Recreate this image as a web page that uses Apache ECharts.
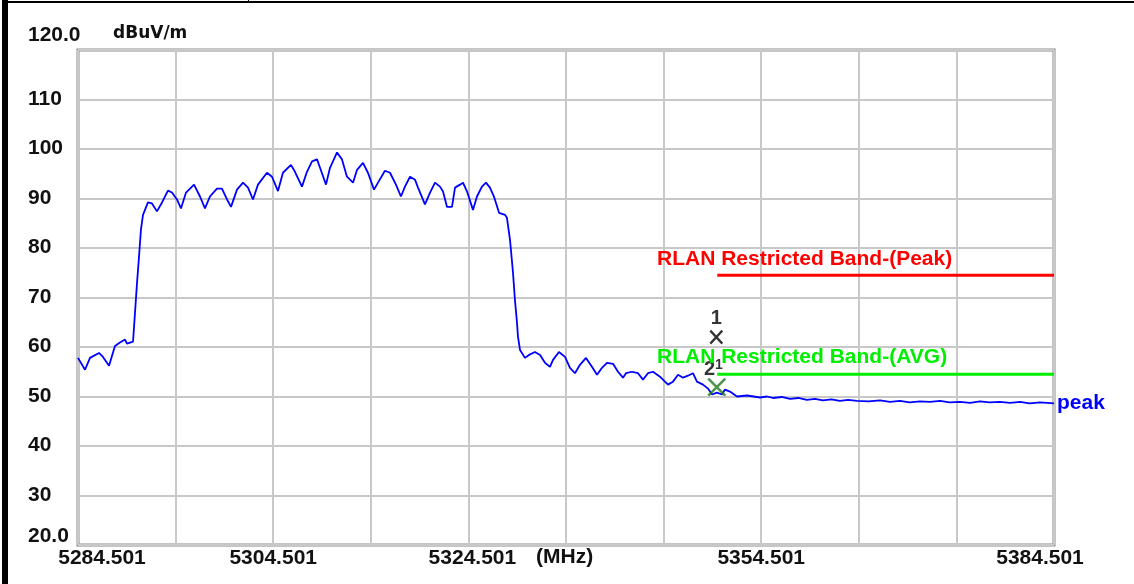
<!DOCTYPE html>
<html>
<head>
<meta charset="utf-8">
<script src="https://cdn.jsdelivr.net/npm/echarts@6/dist/echarts.min.js"></script>
<style>
html,body{margin:0;padding:0;background:#fff;}
#chart{width:1134px;height:584px;}
</style>
</head>
<body>
<div id="chart"></div>
<script>
// ---- data ----
const startFreq = 5284.501;   // MHz
const stopFreq = 5384.501;    // MHz
const freqMHz = [
5284.50,5285.22,5285.73,5286.65,5287.06,5287.68,5288.29,5288.80,5289.32,5289.52,
5290.14,5290.34,5290.55,5290.75,5290.95,5291.16,5291.67,5292.08,5292.59,5293.11,
5293.72,5294.13,5294.64,5295.05,5295.57,5296.39,5297.00,5297.51,5298.02,5298.74,
5299.25,5299.77,5300.18,5300.79,5301.41,5301.92,5302.43,5302.94,5303.86,5304.38,
5304.99,5305.50,5306.32,5306.73,5307.45,5307.96,5308.48,5308.99,5309.30,5309.91,
5310.32,5311.04,5311.55,5312.06,5312.68,5313.09,5313.70,5314.21,5314.83,5315.24,
5315.95,5316.47,5317.08,5317.59,5318.00,5318.52,5319.03,5319.34,5320.05,5320.57,
5321.08,5321.59,5321.90,5322.31,5322.82,5323.13,5323.64,5323.95,5324.36,5324.97,
5325.38,5325.89,5326.30,5326.71,5327.12,5327.64,5328.25,5328.45,5328.76,5328.86,
5329.07,5329.27,5329.48,5329.58,5329.79,5330.30,5330.71,5331.32,5331.84,5332.35,
5332.86,5333.17,5333.78,5334.40,5334.91,5335.42,5335.93,5336.55,5337.16,5337.68,
5338.19,5338.70,5339.32,5339.83,5340.34,5340.65,5341.26,5341.88,5342.39,5342.90,
5343.41,5344.13,5344.64,5344.95,5345.46,5345.98,5346.49,5347.00,5347.51,5347.92,
5348.54,5349.05,5349.46,5349.97,5350.48,5350.79,5351.30,5352.02,5353.05,5354.38,
5355.10,5355.71,5356.60,5357.45,5358.30,5359.19,5360.00,5360.83,5361.70,5362.57,
5363.40,5364.32,5365.50,5366.67,5367.70,5368.72,5369.70,5370.77,5371.80,5372.82,
5373.80,5374.87,5375.90,5376.92,5377.90,5378.97,5380.00,5381.02,5382.00,5383.07,
5384.50
];
const levelDbuV = [
57.8,55.4,57.8,58.8,58.0,56.2,60.2,60.9,61.5,60.7,
61.1,66.9,73.0,78.2,83.7,86.7,89.2,89.0,87.4,89.2,
91.6,91.2,89.8,88.0,91.2,92.8,90.4,88.0,90.4,92.0,
92.0,89.8,88.3,91.8,93.2,92.2,89.8,92.8,95.2,94.4,
91.5,95.2,96.8,95.4,92.4,95.4,97.5,97.9,96.2,92.8,
96.2,99.3,97.9,94.4,93.2,95.8,97.2,95.2,91.8,93.2,
95.6,95.2,92.8,90.4,92.4,94.4,93.8,92.2,88.8,91.2,
93.2,92.4,91.4,88.3,88.3,92.2,92.8,93.2,91.4,87.7,
90.4,92.4,93.2,92.2,90.4,87.1,86.7,86.1,81.7,79.6,
75.0,69.5,64.9,62.1,59.4,57.8,58.4,59.0,58.4,56.8,
56.0,57.4,59.0,58.0,55.8,54.7,56.4,57.8,56.0,54.4,
55.8,56.8,56.6,55.0,53.8,54.7,55.0,54.7,53.4,54.7,
55.0,54.0,53.0,52.4,53.0,54.4,53.8,54.2,54.7,53.0,
52.4,51.6,50.4,50.8,50.4,51.4,51.0,50.0,50.2,49.8,
50.0,49.7,49.9,49.5,49.7,49.3,49.5,49.2,49.4,49.1,
49.3,49.1,49.0,49.2,48.9,49.1,48.8,49.0,48.9,49.1,
48.8,48.9,48.7,49.0,48.8,48.9,48.7,48.9,48.6,48.8,
48.6
];
const xTickLabels = ['5284.501','5304.501','5324.501','5354.501','5384.501'];
const yTickLabels = ['20.0','30','40','50','60','70','80','90','100','110','120.0'];
const limitStartMHz = 5350.0;
const limitPeak = 74.5;
const limitAvg = 54.5;
const markerFreq = [5349.9, 5349.95];
const markerLevel = [62.0, 51.9];
const markerNames = ['1', '2'];

// ---- chart ----
const chart = echarts.init(document.getElementById('chart'));
const FONT = '"Liberation Sans", Arial, sans-serif';
const traceData = freqMHz.map((f, i) => [f - startFreq, levelDbuV[i]]);
const lbl = {fontFamily: FONT, fontWeight: 'bold', fontSize: 21, color: '#111'};

chart.setOption({
  animation: false,
  backgroundColor: '#fff',
  grid: {left: 78, right: 80, top: 50, bottom: 39, show: true, borderColor: '#8a8a8a', borderWidth: 3, backgroundColor: 'transparent'},
  xAxis: {
    type: 'value', min: 0, max: stopFreq - startFreq, interval: 10,
    axisLine: {show: false}, axisTick: {show: false},
    splitLine: {show: true, lineStyle: {color: '#c8c8c8', width: 2}},
    axisLabel: {
      margin: 3, interval: 0, showMinLabel: true, showMaxLabel: true, hideOverlap: false,
      formatter: function (v) {
        const s = (v + startFreq).toFixed(3);
        const idx = xTickLabels.indexOf(s);
        if (idx < 0) return '';
        if (idx === 0) return '{f|' + s + '}';
        if (idx === xTickLabels.length - 1) return '{l|' + s + '}';
        if (idx === 2) return '{c|' + s + '}';
        return '{n|' + s + '}';
      },
      rich: {
        f: Object.assign({}, lbl, {padding: [0, 0, 0, 48]}),
        l: Object.assign({}, lbl, {padding: [0, 28, 0, 0]}),
        c: Object.assign({}, lbl, {padding: [0, 0, 0, 8]}),
        n: Object.assign({}, lbl)
      }
    }
  },
  yAxis: {
    type: 'value', min: 20, max: 120, interval: 10,
    name: 'dBuV/m', nameLocation: 'end', nameGap: 8,
    nameTextStyle: {fontFamily: '"DejaVu Sans", sans-serif', fontWeight: 'bold', fontSize: 17, color: '#111', align: 'left', padding: [0, 0, 0, 35]},
    axisLine: {show: false}, axisTick: {show: false},
    splitLine: {show: true, lineStyle: {color: '#c8c8c8', width: 2}},
    axisLabel: {
      margin: 50, align: 'left',
      formatter: function (v) {
        const s = yTickLabels[Math.round((v - 20) / 10)];
        if (v === 120) return '{t|' + s + '}';
        if (v === 20) return '{b|' + s + '}';
        return '{n|' + s + '}';
      },
      rich: {
        t: Object.assign({}, lbl, {padding: [0, 0, 30, 0]}),
        b: Object.assign({}, lbl, {padding: [0, 0, 18, 0]}),
        n: Object.assign({}, lbl, {padding: [0, 0, 1, 0]})
      }
    }
  },
  series: [
    {
      type: 'line', data: [[limitStartMHz - startFreq, limitPeak], [stopFreq - startFreq, limitPeak]],
      symbol: 'none', lineStyle: {color: '#ff0000', width: 3}, z: 3
    },
    {
      type: 'line', data: [[limitStartMHz - startFreq, limitAvg], [stopFreq - startFreq, limitAvg]],
      symbol: 'none', lineStyle: {color: '#00ee00', width: 3}, z: 3
    },
    {
      type: 'line', data: traceData, symbol: 'none', z: 4,
      lineStyle: {color: '#0000ff', width: 1.8},
      endLabel: {show: true, formatter: 'peak', fontFamily: FONT, fontWeight: 'bold', fontSize: 21, color: '#0000ff', distance: 3}
    },
    {
      type: 'scatter', z: 6,
      data: [[markerFreq[0] - startFreq, markerLevel[0]]],
      symbol: 'path://M0,0L10,12M10,0L0,12', symbolSize: [12, 13],
      itemStyle: {color: 'rgba(0,0,0,0)', borderColor: '#000', borderWidth: 2.4},
      label: {show: true, position: 'top', distance: 1, formatter: markerNames[0], fontFamily: FONT, fontWeight: 'bold', fontSize: 20, color: '#000'}
    },
    {
      type: 'scatter', z: 6,
      data: [[markerFreq[1] - startFreq, markerLevel[1]]],
      symbol: 'path://M0,0L10,10M10,0L0,10', symbolSize: [17, 17],
      itemStyle: {color: 'rgba(0,0,0,0)', borderColor: '#1f7a1f', borderWidth: 2.6},
      label: {show: true, position: [-3, -19], formatter: markerNames[1] + '{s|1}', fontFamily: FONT, fontWeight: 'bold', fontSize: 20, color: '#000',
        rich: {s: {fontFamily: FONT, fontSize: 14, color: '#000', padding: [0, 0, 8, 0]}}}
    }
  ],
  graphic: [
    {type: 'rect', shape: {x: 2, y: 0, width: 6, height: 584}, style: {fill: '#000'}, z: 10},
    {type: 'rect', shape: {x: 8, y: 1, width: 1126, height: 2}, style: {fill: '#000'}, z: 10},
    {type: 'rect', shape: {x: 248, y: 0, width: 1, height: 3}, style: {fill: '#000'}, z: 10},
    {type: 'text', left: 536, top: 547, style: {text: '(MHz)', font: 'bold 21px ' + FONT, fill: '#111'}, z: 10},
    {type: 'text', left: 657, top: 249, style: {text: 'RLAN Restricted Band-(Peak)', font: 'bold 21px ' + FONT, fill: '#ff0000'}, z: 10},
    {type: 'text', left: 657, top: 347, style: {text: 'RLAN Restricted Band-(AVG)', font: 'bold 21px ' + FONT, fill: '#00ee00'}, z: 10}
  ]
});
</script>
</body>
</html>
